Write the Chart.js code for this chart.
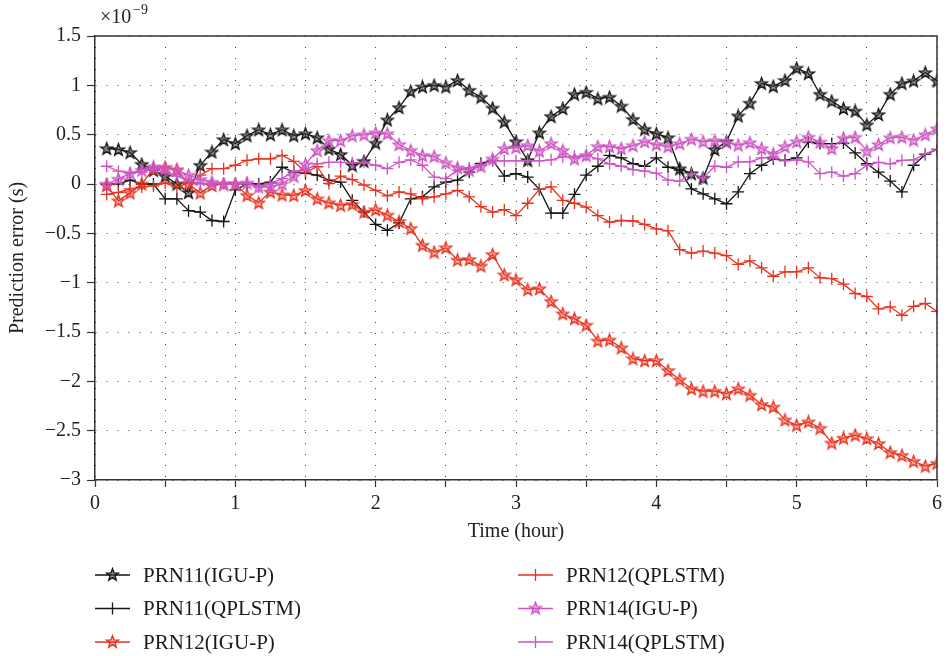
<!DOCTYPE html>
<html lang="en">
<head>
<meta charset="UTF-8">
<title>Prediction error</title>
<script src="https://cdn.jsdelivr.net/npm/chart.js"></script>
<style>
  body { margin: 0; background: #fff; }
  #wrap { width: 947px; height: 656px; }
</style>
</head>
<body>
<div id="wrap"><canvas id="grafico" width="947" height="656"></canvas></div>
<script>
// time of each sample, in minutes (5 min step)
const tempoMin = [5,10,15,20,25,30,35,40,45,50,55,60,65,70,75,80,85,90,95,100,105,110,115,120,
  125,130,135,140,145,150,155,160,165,170,175,180,185,190,195,200,205,210,215,220,225,230,235,240,
  245,250,255,260,265,270,275,280,285,290,295,300,305,310,315,320,325,330,335,340,345,350,355,360];

// prediction error, x1e-9 s
const prn11Igu = [0.36,0.35,0.32,0.20,0.14,0.08,0.00,-0.085,0.19,0.325,0.45,0.41,
  0.49,0.55,0.50,0.55,0.49,0.51,0.47,0.355,0.30,0.19,0.23,0.415,
  0.65,0.775,0.94,0.985,1.0,0.985,1.05,0.95,0.88,0.77,0.63,0.43,
  0.24,0.52,0.685,0.765,0.91,0.93,0.865,0.88,0.79,0.655,0.555,0.51,
  0.47,0.155,0.105,0.06,0.35,0.43,0.69,0.82,1.02,0.99,1.05,1.175,
  1.12,0.91,0.84,0.765,0.74,0.60,0.705,0.91,1.02,1.045,1.13,1.045];
const prn11Qpl = [0.0,0.0,0.04,0.0,0.0,-0.15,-0.15,-0.27,-0.285,-0.37,-0.38,-0.06,
  0.0,0.0,0.02,0.17,0.12,0.11,0.09,0.04,0.02,-0.165,-0.285,-0.41,
  -0.47,-0.395,-0.15,-0.13,-0.03,0.02,0.04,0.12,0.21,0.24,0.08,0.105,
  0.07,-0.055,-0.295,-0.295,-0.105,0.09,0.18,0.29,0.265,0.205,0.18,0.265,
  0.17,0.14,-0.05,-0.1,-0.15,-0.2,-0.08,0.105,0.19,0.255,0.24,0.265,
  0.425,0.41,0.41,0.415,0.315,0.205,0.12,0.03,-0.08,0.19,0.3,0.35];
const prn12Igu = [-0.015,-0.17,-0.09,0.0,0.155,0.17,0.145,0.0,-0.09,-0.015,0.0,0.0,
  -0.115,-0.19,-0.08,-0.11,-0.115,-0.065,-0.15,-0.19,-0.215,-0.205,-0.285,-0.26,
  -0.315,-0.38,-0.45,-0.62,-0.69,-0.645,-0.77,-0.765,-0.83,-0.715,-0.92,-0.97,
  -1.07,-1.06,-1.19,-1.315,-1.365,-1.43,-1.59,-1.58,-1.66,-1.77,-1.79,-1.79,
  -1.89,-1.985,-2.075,-2.1,-2.1,-2.125,-2.075,-2.14,-2.235,-2.26,-2.39,-2.445,
  -2.41,-2.475,-2.625,-2.575,-2.545,-2.58,-2.63,-2.72,-2.75,-2.81,-2.86,-2.83];
const prn12Qpl = [-0.105,-0.085,-0.05,-0.03,-0.02,0.01,-0.03,0.01,0.09,0.155,0.155,0.19,
  0.24,0.255,0.255,0.29,0.23,0.12,0.175,0.005,0.08,0.045,-0.01,-0.065,
  -0.12,-0.08,-0.1,-0.15,-0.13,-0.1,-0.065,-0.13,-0.23,-0.285,-0.26,-0.32,
  -0.195,-0.055,-0.03,-0.165,-0.195,-0.235,-0.32,-0.385,-0.37,-0.375,-0.41,-0.455,
  -0.475,-0.665,-0.7,-0.68,-0.7,-0.725,-0.815,-0.78,-0.85,-0.935,-0.89,-0.89,
  -0.85,-0.95,-0.96,-1.015,-1.11,-1.14,-1.265,-1.245,-1.33,-1.24,-1.21,-1.29];
const prn14Igu = [0.0,0.05,0.11,0.14,0.175,0.155,0.14,0.09,0.045,0.02,0.0,0.0,
  0.01,-0.03,-0.03,0.0,0.08,0.2,0.34,0.44,0.44,0.49,0.5,0.52,
  0.51,0.40,0.34,0.29,0.28,0.215,0.165,0.14,0.18,0.255,0.36,0.37,
  0.39,0.335,0.41,0.34,0.255,0.29,0.38,0.38,0.36,0.39,0.43,0.4,
  0.38,0.41,0.455,0.43,0.44,0.42,0.395,0.42,0.36,0.305,0.38,0.43,
  0.475,0.425,0.36,0.465,0.475,0.335,0.4,0.47,0.475,0.445,0.5,0.56];
const prn14Qpl = [0.18,0.13,0.11,0.12,0.155,0.12,0.08,0.03,0.005,0.005,0.005,0.005,
  0.015,-0.03,0.005,0.055,0.13,0.14,0.205,0.22,0.22,0.215,0.22,0.19,
  0.155,0.22,0.245,0.19,0.07,0.055,0.14,0.165,0.19,0.235,0.235,0.235,
  0.235,0.235,0.245,0.275,0.28,0.29,0.255,0.205,0.18,0.145,0.13,0.11,
  0.04,0.03,0.105,0.06,0.18,0.17,0.225,0.225,0.265,0.275,0.235,0.245,
  0.225,0.105,0.12,0.08,0.105,0.19,0.22,0.205,0.24,0.245,0.305,0.35];

const nomes = ['PRN11(IGU-P)', 'PRN11(QPLSTM)', 'PRN12(IGU-P)', 'PRN12(QPLSTM)', 'PRN14(IGU-P)', 'PRN14(QPLSTM)'];
const series = [prn11Igu, prn11Qpl, prn12Igu, prn12Qpl, prn14Igu, prn14Qpl];

const PRETO = '#151515', VERMELHO = '#e8321f', ROSA = '#cc55c2';
const FONTE = "'Liberation Serif', 'DejaVu Serif', serif";

// pentagram marker (MATLAB 'p')
function estrela(cor, fundo) {
  const c = document.createElement('canvas');
  c.width = 15; c.height = 15;
  const g = c.getContext('2d');
  g.beginPath();
  for (let i = 0; i < 10; i++) {
    const r = i % 2 === 0 ? 6.3 : 2.6;
    const a = -Math.PI / 2 + i * Math.PI / 5;
    const px = 7.5 + r * Math.cos(a), py = 8 + r * Math.sin(a);
    if (i === 0) g.moveTo(px, py); else g.lineTo(px, py);
  }
  g.closePath();
  g.fillStyle = fundo;
  g.fill();
  g.lineWidth = 1.4;
  g.strokeStyle = cor;
  g.stroke();
  return c;
}

const estilos = [
  { cor: PRETO, ponto: estrela(PRETO, 'rgba(60,60,60,0.55)') },
  { cor: PRETO, ponto: 'cross' },
  { cor: VERMELHO, ponto: estrela(VERMELHO, 'rgba(232,50,31,0.35)') },
  { cor: VERMELHO, ponto: 'cross' },
  { cor: ROSA, ponto: estrela(ROSA, 'rgba(204,85,194,0.45)') },
  { cor: ROSA, ponto: 'cross' }
];

const dados = { datasets: [] };
for (let i = 0; i < series.length; i++) {
  const pts = [];
  for (let k = 0; k < tempoMin.length; k++) {
    pts.push({ x: tempoMin[k] / 60, y: series[i][k] });
  }
  dados.datasets.push({
    label: nomes[i],
    data: pts,
    borderColor: estilos[i].cor,
    borderWidth: 1.3,
    pointStyle: estilos[i].ponto,
    pointRadius: 6,
    pointBorderColor: estilos[i].cor,
    pointBackgroundColor: estilos[i].cor,
    pointBorderWidth: 1.3,
    tension: 0,
    order: series.length - i
  });
}

// box, exponent label and the two-column legend
const extras = {
  id: 'extras',
  afterDraw(chart) {
    const ctx = chart.ctx;
    const a = chart.chartArea;
    ctx.save();
    ctx.strokeStyle = '#333';
    ctx.lineWidth = 1.5;
    ctx.beginPath();
    ctx.moveTo(a.left, a.top);
    ctx.lineTo(a.right, a.top);
    ctx.lineTo(a.right, a.bottom);
    ctx.stroke();

    ctx.fillStyle = '#222';
    ctx.textBaseline = 'alphabetic';
    ctx.textAlign = 'left';
    ctx.font = '20px ' + FONTE;
    ctx.fillText('\u00d710', 100, 23);
    ctx.font = '14px ' + FONTE;
    ctx.fillText('\u22129', 133, 14);

    const colX = [95, 518];
    const linY = [575, 608.5, 642];
    ctx.font = '21px ' + FONTE;
    ctx.textBaseline = 'middle';
    for (let i = 0; i < nomes.length; i++) {
      const x = colX[Math.floor(i / 3)];
      const y = linY[i % 3];
      const e = estilos[i];
      ctx.strokeStyle = e.cor;
      ctx.lineWidth = 1.3;
      ctx.beginPath();
      ctx.moveTo(x, y);
      ctx.lineTo(x + 35, y);
      ctx.stroke();
      const cx = x + 17.5;
      if (e.ponto === 'cross') {
        ctx.beginPath();
        ctx.moveTo(cx, y - 6); ctx.lineTo(cx, y + 6);
        ctx.stroke();
      } else {
        ctx.drawImage(e.ponto, cx - 7.5, y - 8);
      }
      ctx.fillStyle = '#1a1a1a';
      ctx.fillText(nomes[i], x + 48, y + 1);
    }
    ctx.restore();
  }
};

const config = {
  type: 'line',
  data: dados,
  plugins: [extras],
  options: {
    responsive: false,
    animation: false,
    layout: { padding: { top: 36, right: 4, bottom: 112, left: 0 } },
    plugins: {
      legend: { display: false },
      tooltip: { enabled: false }
    },
    scales: {
      x: {
        type: 'linear',
        min: 0,
        max: 6,
        afterFit: function (s) { s.height = 64; },
        ticks: {
          stepSize: 0.5,
          autoSkip: false,
          maxRotation: 0,
          padding: 5,
          color: '#222',
          font: { family: FONTE, size: 20 },
          callback: function (v) { return Number.isInteger(v) ? String(v) : ''; }
        },
        grid: { color: '#444', lineWidth: 1, tickLength: 7, tickColor: '#333', tickWidth: 1.2 },
        border: { color: '#333', width: 1.5, dash: [1, 10] },
        title: { display: true, text: 'Time (hour)', color: '#222', font: { family: FONTE, size: 20 }, padding: { top: 2, bottom: 0 } }
      },
      y: {
        min: -3,
        max: 1.5,
        afterFit: function (s) { s.width = 95; },
        ticks: {
          stepSize: 0.5,
          padding: 6,
          color: '#222',
          font: { family: FONTE, size: 20 },
          callback: function (v) { return v < 0 ? '\u2212' + Math.abs(v) : String(v); }
        },
        grid: { color: '#444', lineWidth: 1, tickLength: 8, tickColor: '#333', tickWidth: 1.2 },
        border: { color: '#333', width: 1.5, dash: [1, 10] },
        title: { display: true, text: 'Prediction error (s)', color: '#222', font: { family: FONTE, size: 20 }, padding: { top: 6, bottom: 0 } }
      }
    }
  }
};

new Chart(document.getElementById('grafico'), config);
</script>
</body>
</html>
